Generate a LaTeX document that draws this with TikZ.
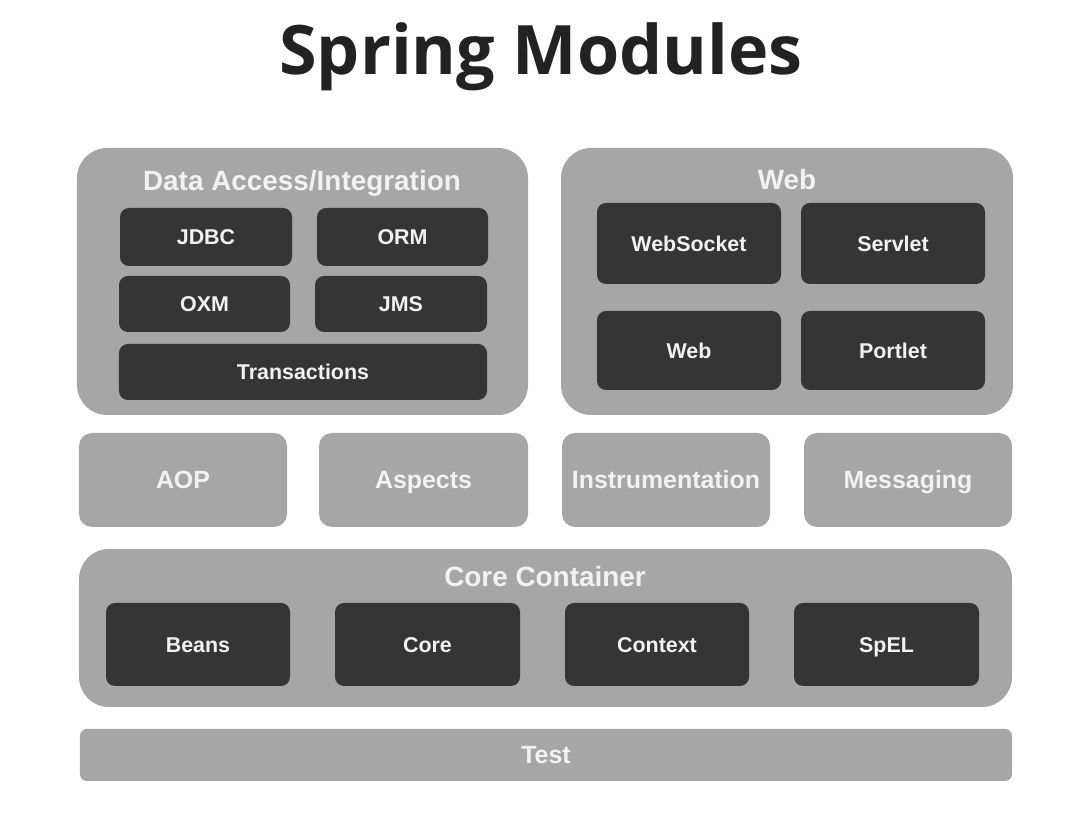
\documentclass[tikz,border=0pt]{standalone}
\usepackage{fontspec}
\setmainfont{Liberation Sans}
\newfontfamily\titlefont{Open Sans}
\definecolor{boxgray}{HTML}{A6A6A6}
\definecolor{boxdark}{HTML}{353535}
\definecolor{labelwhite}{HTML}{F2F2F2}
\definecolor{titleblack}{HTML}{222222}

\begin{document}
\begin{tikzpicture}[x=1bp,y=1bp,
				wh/.style 2 args={minimum width=#1bp,minimum height=#2bp},
				group/.style={fill=boxgray,rounded corners=30bp,inner sep=0pt},
				module/.style={fill=boxdark,rounded corners=9bp,inner sep=0pt,text=labelwhite,
					text height=15.4bp,text depth=0pt,font=\fontsize{21.5}{24}\selectfont\bfseries},
				layer/.style={fill=boxgray,rounded corners=13bp,inner sep=0pt,text=labelwhite,
					text height=17.9bp,text depth=0pt,font=\fontsize{25}{28}\selectfont\bfseries},
				heading/.style={text=labelwhite,inner sep=0pt,anchor=base,font=\fontsize{28}{32}\selectfont\bfseries}]
				\useasboundingbox (0,0) rectangle (1072,820);
				\node (TITLE) [anchor=base,inner sep=0pt,text=titleblack,font=\titlefont\fontsize{68.5}{78}\selectfont\bfseries] at (541,745) {Spring Modules};
				% data access / integration
				\node (DATA)  [group,wh={451}{267}]  at (302.5,538.5) {};
				\node (DATAT) [heading]              at (302,629)     {Data Access/Integration};
				\node (JDBC)  [module,wh={172}{58}]  at (206,583)     {JDBC};
				\node (ORM)   [module,wh={171}{58}]  at (402.5,583)   {ORM};
				\node (OXM)   [module,wh={171}{56}]  at (204.5,516)   {OXM};
				\node (JMS)   [module,wh={172}{56}]  at (401,516)     {JMS};
				\node (TRANS) [module,wh={368}{56}]  at (303,448)     {Transactions};
				% web
				\node (WEB)   [group,wh={452}{267}]  at (787,538.5)   {};
				\node (WEBT)  [heading]              at (787,630)     {Web};
				\node (SOCK)  [module,wh={184}{81}]  at (689,576.5)   {WebSocket};
				\node (SERV)  [module,wh={184}{81}]  at (893,576.5)   {Servlet};
				\node (WEBM)  [module,wh={184}{79}]  at (689,469.5)   {Web};
				\node (PORT)  [module,wh={184}{79}]  at (893,469.5)   {Portlet};
				% middle row
				\node (AOP)   [layer,wh={208}{94}]   at (183,340)     {AOP};
				\node (ASP)   [layer,wh={209}{94}]   at (423.5,340)   {Aspects};
				\node (INST)  [layer,wh={208}{94}]   at (666,340)     {Instrumentation};
				\node (MSG)   [layer,wh={208}{94}]   at (908,340)     {Messaging};
				% core container
				\node (CORE)  [group,wh={933}{158}]  at (545.5,192)   {};
				\node (CORET) [heading]              at (545,233)     {Core Container};
				\node (BEANS) [module,wh={184}{83}]  at (198,175.5)   {Beans};
				\node (CMOD)  [module,wh={185}{83}]  at (427.5,175.5) {Core};
				\node (CTX)   [module,wh={184}{83}]  at (657,175.5)   {Context};
				\node (SPEL)  [module,wh={185}{83}]  at (886.5,175.5) {SpEL};
				% test
				\node (TEST)  [layer,rounded corners=7bp,wh={932}{52}] at (546,65) {Test};
			\end{tikzpicture}
\end{document}
